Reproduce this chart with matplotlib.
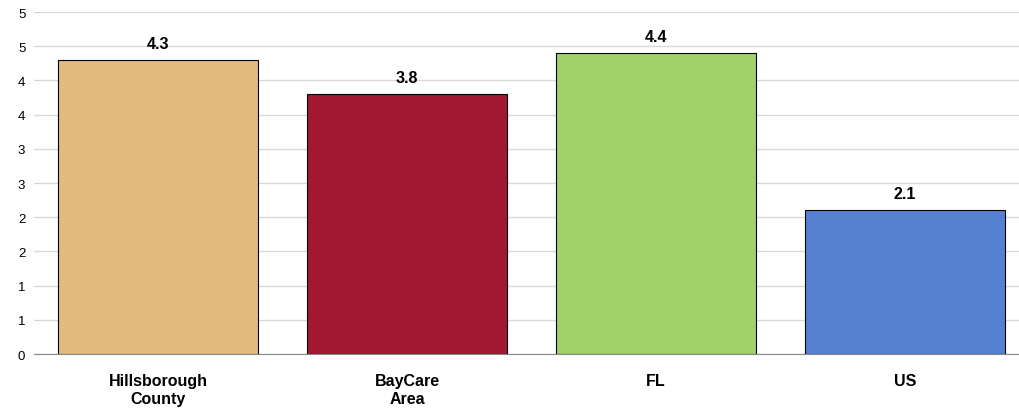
import matplotlib
matplotlib.use('Agg')
import matplotlib.pyplot as plt
from matplotlib.ticker import FuncFormatter, MultipleLocator

categories = ['Hillsborough\nCounty', 'BayCare\nArea', 'FL', 'US']
values = [4.3, 3.8, 4.4, 2.1]
colors = ['#E3BB7E', '#A21830', '#A1D26A', '#5580D0']

plt.rcParams['font.family'] = ['Liberation Sans', 'DejaVu Sans']

fig = plt.figure(figsize=(10.2, 4.14), dpi=100)
ax = fig.add_axes([0.033, 0.1425, 0.9765, 0.826])

x = range(len(categories))
bars = ax.bar(x, values, width=0.803, color=colors, edgecolor='black', linewidth=0.8, zorder=3)
for b, v in zip(bars, values):
    ax.text(b.get_x() + b.get_width() / 2, v + 0.13, f'{v:.1f}', ha='center', va='bottom',
            fontsize=11.5, fontweight='bold')

ax.set_xlim(-0.5, 3.5)
ax.set_ylim(0, 5)
ax.yaxis.set_major_locator(MultipleLocator(0.5))
# Excel-style rounding of half values
ax.yaxis.set_major_formatter(FuncFormatter(lambda v, p: f'{int(v + 0.5 + 1e-9)}' if v % 1 else f'{int(v)}'))
ax.grid(axis='y', color='#D9D9D9', linewidth=1, zorder=0)
ax.set_xticks(list(x))
ax.set_xticklabels(categories, fontsize=11.5, fontweight='bold', linespacing=1.25)
ax.tick_params(axis='y', length=0, labelsize=9.5, pad=6)
ax.tick_params(axis='x', length=0, pad=14)
for s in ['top', 'right', 'left']:
    ax.spines[s].set_visible(False)
ax.spines['bottom'].set_color('#888888')
ax.spines['bottom'].set_zorder(4)

fig.savefig('out.png', dpi=100)
